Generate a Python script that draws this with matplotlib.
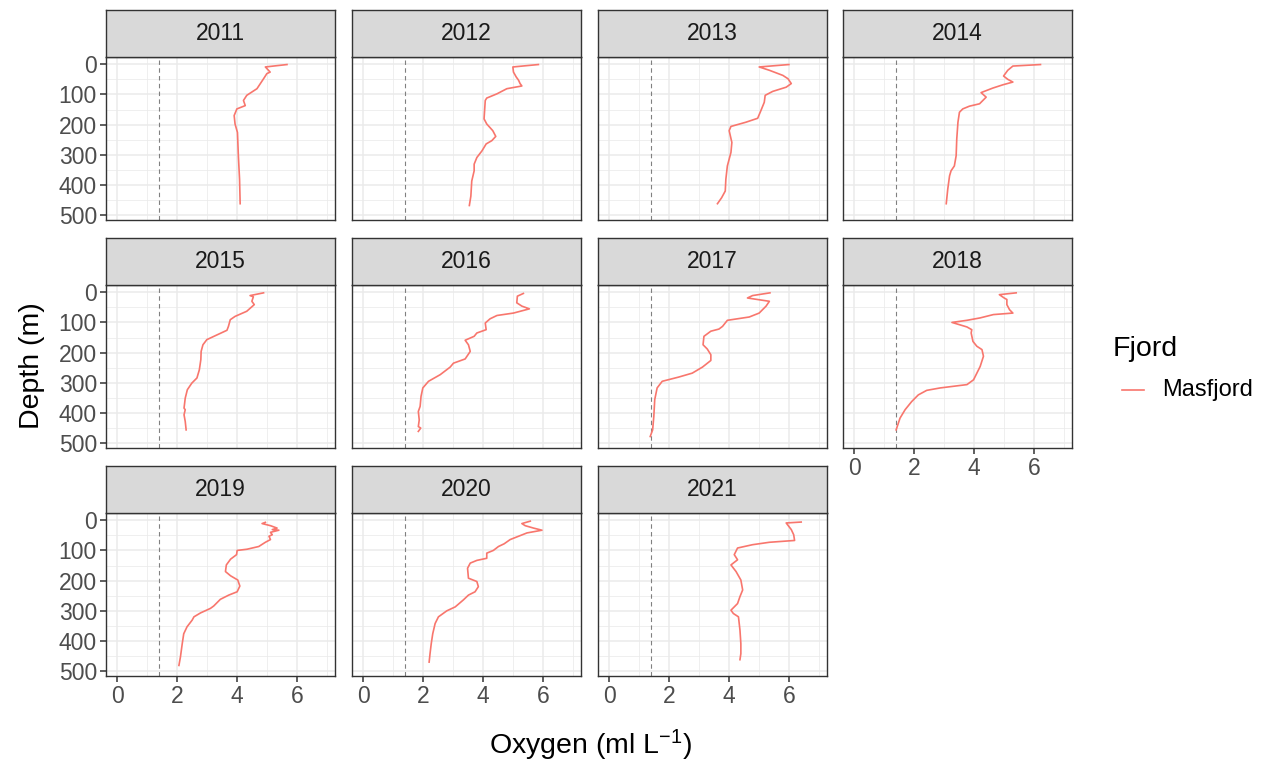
import matplotlib
matplotlib.use("Agg")
import matplotlib.pyplot as plt
from matplotlib.lines import Line2D

plt.rcParams['font.family'] = ['Liberation Sans', 'DejaVu Sans']
plt.rcParams['mathtext.fontset'] = 'custom'
plt.rcParams['mathtext.rm'] = 'Liberation Sans'
plt.rcParams['mathtext.it'] = 'Liberation Sans:italic'
plt.rcParams['mathtext.bf'] = 'Liberation Sans:bold'

# Oxygen profiles (ml/L) against depth (m), one per year, Masfjord
years = [2011, 2012, 2013, 2014, 2015, 2016, 2017, 2018, 2019, 2020, 2021]

oxy_2011 = [5.66, 4.94, 5.10, 4.99, 4.88, 4.66, 4.32, 4.21, 4.27, 3.99, 3.90, 3.93, 4.01, 4.04, 4.08, 4.10]
dep_2011 = [1, 9, 26, 31, 48, 81, 103, 120, 137, 148, 170, 198, 226, 303, 381, 462]

oxy_2012 = [5.84, 4.99, 5.01, 5.10, 5.18, 5.23, 5.29, 4.79, 4.46, 4.12, 4.07, 4.03, 4.12, 4.32, 4.42, 4.29, 4.10, 3.96, 3.79, 3.70, 3.70, 3.62, 3.59, 3.54]
dep_2012 = [1, 9, 26, 42, 53, 64, 72, 81, 98, 112, 120, 181, 198, 220, 239, 253, 264, 287, 309, 331, 353, 387, 437, 468]

oxy_2013 = [5.99, 5.00, 5.34, 5.79, 5.96, 6.07, 5.90, 5.45, 5.20, 5.17, 5.06, 4.95, 4.56, 4.06, 4.00, 4.09, 4.06, 3.94, 3.89, 3.87, 3.75, 3.61]
dep_2013 = [1, 9, 20, 37, 48, 64, 76, 90, 103, 126, 153, 179, 192, 206, 220, 259, 292, 337, 381, 420, 442, 462]

oxy_2014 = [6.21, 5.29, 5.12, 4.98, 5.12, 5.29, 4.96, 4.62, 4.23, 4.40, 4.29, 4.18, 3.84, 3.62, 3.51, 3.46, 3.42, 3.40, 3.34, 3.23, 3.18, 3.12, 3.07]
dep_2014 = [1, 6, 20, 39, 50, 59, 68, 79, 94, 109, 120, 131, 139, 148, 159, 192, 248, 303, 337, 353, 370, 414, 462]

oxy_2015 = [4.88, 4.43, 4.54, 4.49, 4.57, 4.32, 3.93, 3.77, 3.71, 3.66, 3.27, 2.99, 2.86, 2.80, 2.79, 2.74, 2.66, 2.49, 2.34, 2.27, 2.23, 2.27, 2.23, 2.27, 2.30]
dep_2015 = [2, 11, 15, 30, 41, 63, 80, 91, 113, 126, 144, 157, 174, 196, 223, 257, 284, 301, 323, 351, 384, 389, 406, 428, 456]

oxy_2016 = [5.34, 5.14, 5.12, 5.29, 5.54, 5.01, 4.46, 4.23, 4.07, 4.10, 3.79, 3.70, 3.40, 3.51, 3.57, 3.40, 3.01, 2.90, 2.57, 2.18, 1.99, 1.93, 1.90, 1.84, 1.87, 1.84, 1.92, 1.84]
dep_2016 = [4, 13, 35, 46, 55, 69, 77, 88, 102, 124, 135, 146, 159, 174, 196, 221, 235, 248, 273, 295, 317, 345, 378, 395, 423, 445, 450, 461]

oxy_2017 = [5.36, 4.78, 4.61, 5.34, 5.23, 5.00, 4.67, 3.94, 3.78, 3.66, 3.39, 3.16, 3.13, 3.27, 3.39, 3.39, 3.11, 2.77, 2.32, 1.77, 1.60, 1.52, 1.49, 1.45, 1.37]
dep_2017 = [2, 11, 19, 30, 46, 69, 82, 93, 113, 122, 129, 146, 174, 188, 207, 226, 248, 268, 281, 295, 317, 356, 411, 456, 478]

oxy_2018 = [5.40, 4.84, 5.00, 5.09, 5.09, 5.18, 5.29, 4.64, 4.20, 3.76, 3.26, 3.76, 3.92, 3.90, 3.96, 4.09, 4.26, 4.31, 4.20, 4.09, 3.98, 3.76, 2.87, 2.42, 2.14, 1.92, 1.70, 1.53, 1.40]
dep_2018 = [2, 8, 19, 24, 41, 58, 69, 74, 85, 93, 100, 115, 124, 135, 163, 179, 190, 212, 246, 268, 290, 306, 317, 325, 340, 362, 389, 417, 456]

oxy_2019 = [4.94, 4.83, 5.11, 5.33, 5.17, 5.39, 5.11, 5.17, 5.06, 5.11, 4.94, 4.72, 4.33, 4.00, 3.98, 3.78, 3.64, 3.61, 3.78, 4.02, 4.09, 4.00, 3.72, 3.44, 3.22, 3.11, 2.78, 2.56, 2.50, 2.33, 2.22, 2.17, 2.11, 2.06]
dep_2019 = [7, 11, 18, 26, 31, 33, 40, 48, 53, 64, 73, 87, 96, 100, 114, 129, 148, 170, 184, 198, 218, 237, 248, 262, 284, 292, 307, 320, 331, 353, 376, 409, 453, 481]

oxy_2020 = [5.57, 5.29, 5.40, 5.68, 5.96, 5.46, 5.18, 4.90, 4.70, 4.51, 4.34, 4.12, 4.12, 3.79, 3.57, 3.48, 3.51, 3.79, 3.84, 3.73, 3.51, 3.34, 3.07, 2.79, 2.51, 2.40, 2.32, 2.27, 2.23, 2.20]
dep_2020 = [3, 11, 18, 26, 33, 42, 53, 64, 78, 87, 100, 109, 126, 133, 142, 159, 192, 203, 220, 237, 248, 264, 287, 300, 320, 342, 376, 409, 442, 470]

oxy_2021 = [6.40, 5.90, 6.07, 6.15, 6.18, 5.34, 4.78, 4.28, 4.17, 4.28, 4.06, 4.23, 4.39, 4.45, 4.36, 4.28, 4.06, 4.14, 4.31, 4.36, 4.39, 4.39, 4.36]
dep_2021 = [6, 9, 31, 48, 67, 73, 81, 92, 114, 131, 148, 170, 198, 231, 253, 276, 298, 309, 320, 364, 409, 442, 462]

oxygen = [oxy_2011, oxy_2012, oxy_2013, oxy_2014, oxy_2015, oxy_2016,
          oxy_2017, oxy_2018, oxy_2019, oxy_2020, oxy_2021]
depth = [dep_2011, dep_2012, dep_2013, dep_2014, dep_2015, dep_2016,
         dep_2017, dep_2018, dep_2019, dep_2020, dep_2021]

hypoxia_threshold = 1.4
x_ticks = [0, 2, 4, 6]
x_minor = [1, 3, 5, 7]
y_ticks = [0, 100, 200, 300, 400, 500]
y_minor = [50, 150, 250, 350, 450]
fjord_name = "Masfjord"

LINE_COL = "#F8766D"
GRID_COL = "#EBEBEB"
BORDER_COL = "#333333"
TICK_TXT = "#4D4D4D"
SMALL = 16.5
LARGE = 20.5

W, H = 1271, 763
fig = plt.figure(figsize=(W / 100, H / 100), dpi=100)


def frac(x0, y0, w, h):
    return [x0 / W, 1 - (y0 + h) / H, w / W, h / H]


col_left = [106, 352, 598, 843]
panel_w = 229
row_top = [57, 285, 513]
panel_h = 163
strip_h = 47
ncol = 4

for i, yr in enumerate(years):
    r, c = divmod(i, ncol)
    ax = fig.add_axes(frac(col_left[c], row_top[r], panel_w, panel_h))
    ax.set_xlim(-0.37, 7.26)
    ax.set_ylim(516, -24)
    ax.set_facecolor("white")
    ax.set_axisbelow(True)
    ax.set_xticks(x_ticks)
    ax.set_xticks(x_minor, minor=True)
    ax.set_yticks(y_ticks)
    ax.set_yticks(y_minor, minor=True)
    ax.grid(True, which="major", color=GRID_COL, lw=1.1)
    ax.grid(True, which="minor", color=GRID_COL, lw=0.55)
    for s in ax.spines.values():
        s.set_color(BORDER_COL)
        s.set_linewidth(1.0)
    ax.tick_params(which="minor", length=0)
    ax.tick_params(which="major", length=4.5, width=1.1, color=BORDER_COL,
                   labelcolor=TICK_TXT, labelsize=SMALL, pad=2)
    show_x = (r == 2) or (r == 1 and c == 3)
    show_y = (c == 0)
    ax.tick_params(axis="x", bottom=show_x, labelbottom=show_x)
    ax.tick_params(axis="y", left=show_y, labelleft=show_y)

    ax.axvline(hypoxia_threshold, color="#808080", lw=0.8, ls=(0, (4, 3)), zorder=2)
    ax.plot(oxygen[i], depth[i], color=LINE_COL, lw=1.2, zorder=3)

    sax = fig.add_axes(frac(col_left[c], row_top[r] - strip_h, panel_w, strip_h))
    sax.set_facecolor("#D9D9D9")
    sax.set_xticks([])
    sax.set_yticks([])
    for s in sax.spines.values():
        s.set_color(BORDER_COL)
        s.set_linewidth(1.0)
    sax.text(0.5, 0.5, str(yr), ha="center", va="center", fontsize=SMALL,
             color="#1A1A1A", transform=sax.transAxes)

fig.text(32 / W, 1 - 366 / H, "Depth (m)", rotation=90, ha="center", va="center",
         fontsize=LARGE, color="black")
fig.text(590 / W, 1 - 745 / H, "Oxygen (ml L$^{-1}$)", ha="center", va="center",
         fontsize=LARGE, color="black")

fig.text(1113 / W, 1 - 349 / H, "Fjord", ha="left", va="center", fontsize=LARGE, color="black")
fig.add_artist(Line2D([1122 / W, 1144 / W], [1 - 390 / H, 1 - 390 / H],
                      color=LINE_COL, lw=1.2))
fig.text(1162 / W, 1 - 390 / H, fjord_name, ha="left", va="center", fontsize=SMALL + 0.5,
         color="black")

fig.savefig("out.png", dpi=100)
